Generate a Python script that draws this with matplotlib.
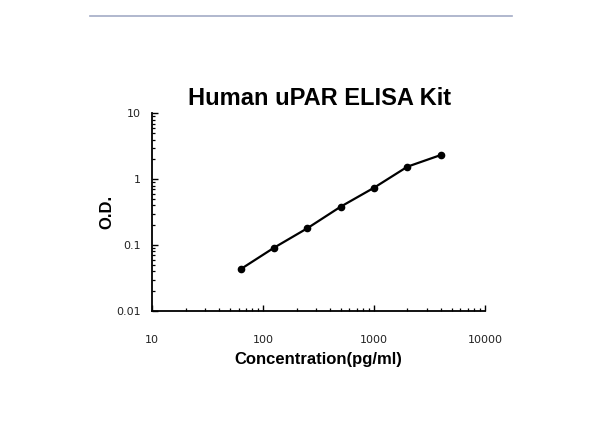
import matplotlib
matplotlib.use("Agg")
import matplotlib.pyplot as plt
from matplotlib.lines import Line2D
from matplotlib.ticker import LogLocator, FixedFormatter, FixedLocator, NullFormatter

# data
conc = [62.5, 125, 250, 500, 1000, 2000, 4000]
od = [0.043, 0.091, 0.18, 0.383, 0.743, 1.55, 2.33]

x_ticks = [10, 100, 1000, 10000]
x_labels = ["10", "100", "1000", "10000"]
y_ticks = [0.01, 0.1, 1, 10]
y_labels = ["0.01", "0.1", "1", "10"]

fig = plt.figure(figsize=(6, 4.47), dpi=100)
ax = fig.add_axes([0.2538, 0.3043, 0.5545, 0.4422])

ax.plot(conc, od, color="black", lw=1.6, marker="o", ms=4.5, zorder=3)

ax.set_xscale("log")
ax.set_yscale("log")
ax.set_xlim(10, 10000)
ax.set_ylim(0.01, 10)

ax.xaxis.set_major_locator(FixedLocator(x_ticks))
ax.xaxis.set_major_formatter(FixedFormatter(x_labels))
ax.yaxis.set_major_locator(FixedLocator(y_ticks))
ax.yaxis.set_major_formatter(FixedFormatter(y_labels))
for axis in (ax.xaxis, ax.yaxis):
    axis.set_minor_locator(LogLocator(base=10, subs=range(2, 10)))
    axis.set_minor_formatter(NullFormatter())

for s in ("top", "right"):
    ax.spines[s].set_visible(False)
for s in ("left", "bottom"):
    ax.spines[s].set_linewidth(1.3)

ax.tick_params(which="major", direction="in", length=4, width=1, labelsize=8,
               labelcolor="#222222")
ax.tick_params(which="minor", direction="in", length=2.5, width=0.9)
ax.tick_params(axis="x", which="major", pad=17)
ax.tick_params(axis="y", which="major", pad=8)

ax.set_xlabel("Concentration(pg/ml)", fontsize=12, fontweight="bold",
              family="Liberation Sans", labelpad=5.5)
ax.set_ylabel("O.D.", fontsize=12, fontweight="bold",
              family="Liberation Sans", labelpad=1.5)

fig.text(0.532, 0.765, "Human uPAR ELISA Kit", ha="center", va="baseline",
         fontsize=17, fontweight="bold", family="Liberation Sans")

# thin rule across the top of the image
fig.add_artist(Line2D([0.15, 0.853], [0.9653, 0.9653], color="#a3abc6", lw=1.2))

fig.savefig("out.png", dpi=100)
